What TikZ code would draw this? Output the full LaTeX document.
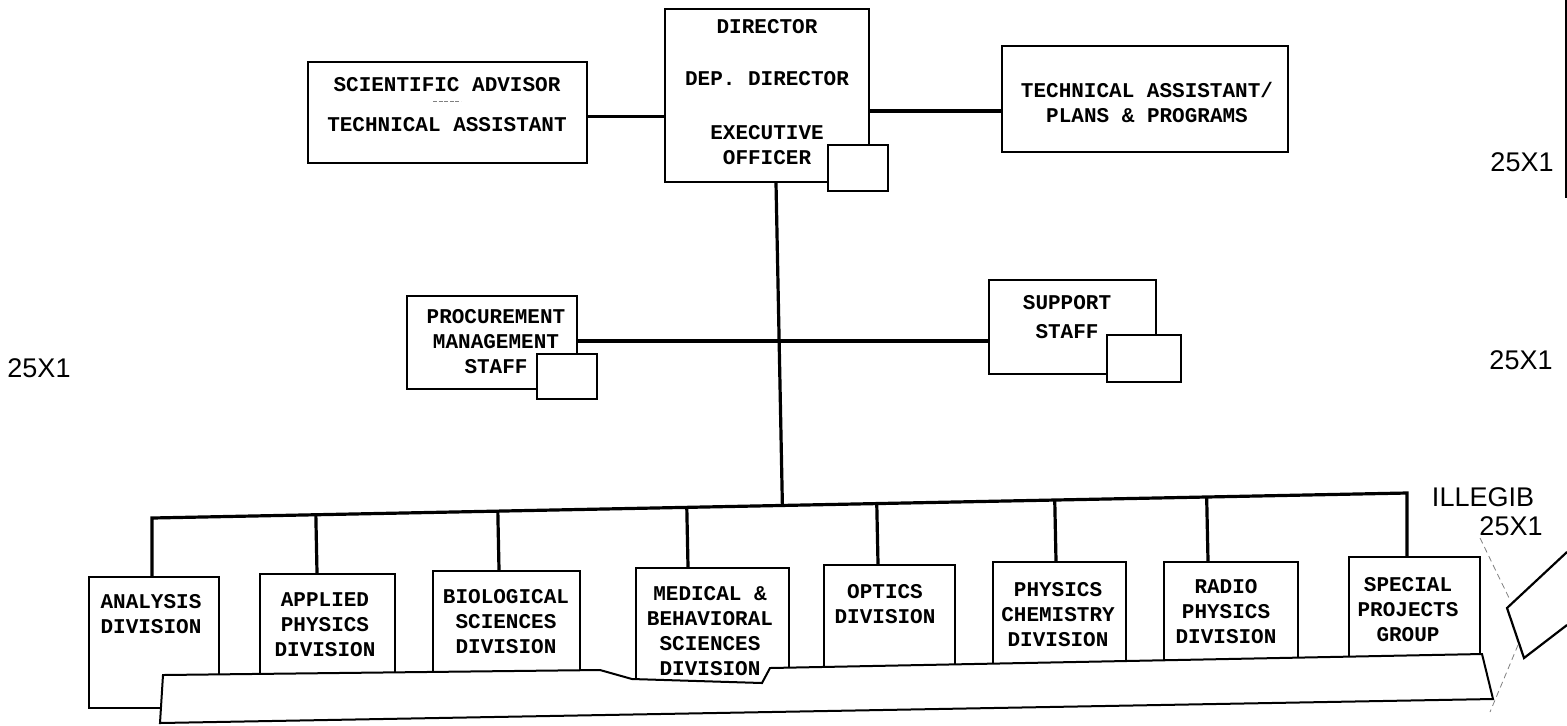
\documentclass[tikz,border=0pt]{standalone}
\usepackage{fontspec}
\setmonofont{Liberation Mono}
\setsansfont{Liberation Sans}
\usetikzlibrary{calc}

\tikzset{
  unit/.style={draw, line width=1.1pt, fill=white, inner sep=0pt},
  stamp/.style={draw, line width=0.85pt, fill=white, inner sep=0pt},
  txt/.style={font=\ttfamily\bfseries\fontsize{10.5}{12.5}\selectfont, align=center, inner sep=0pt},
  tag/.style={font=\sffamily\fontsize{13.5}{15}\selectfont, inner sep=0pt},
  link/.style={line width=1.6pt}
}

\begin{document}
\begin{tikzpicture}[x=0.5pt, y=-0.5pt]
  \useasboundingbox (0,0) rectangle (1567,725);

  % top row
  \node[unit, minimum width=139.5pt, minimum height=50.5pt] (sci) at (447.5,112.5) {};
  \node[unit, minimum width=102pt, minimum height=86.5pt] (dir) at (767,95.5) {};
  \node[unit, minimum width=143pt, minimum height=53pt] (tap) at (1145,99) {};

  % staff
  \node[unit, minimum width=85pt, minimum height=46.5pt] (proc) at (492,342.5) {};
  \node[unit, minimum width=83.5pt, minimum height=47pt] (sup) at (1072.5,327) {};

  % divisions
  \node[unit, minimum width=65pt, minimum height=65.5pt] (ana) at (154,642.5) {};
  \node[unit, minimum width=67.5pt, minimum height=55pt] (app) at (327.5,629) {};
  \node[unit, minimum width=73.5pt, minimum height=56.5pt] (bio) at (506.5,627.5) {};
  \node[unit, minimum width=76.5pt, minimum height=61pt] (med) at (712.5,629) {};
  \node[unit, minimum width=65.5pt, minimum height=57.5pt] (opt) at (889.5,622.5) {};
  \node[unit, minimum width=66.5pt, minimum height=56.5pt] (phc) at (1059.5,618.5) {};
  \node[unit, minimum width=67pt, minimum height=54pt] (rad) at (1231,616) {};
  \node[unit, minimum width=65.5pt, minimum height=54pt] (spg) at (1414.5,611) {};

  % connectors
  \coordinate (sciR) at ([yshift=-2pt]sci.east);
  \coordinate (tapL) at ([yshift=-6pt]tap.west);
  \coordinate (procR) at ([yshift=0.75pt]proc.east);
  \coordinate (dirB) at ([xshift=4.5pt]dir.south);
  \coordinate (busL) at (152,518);
  \coordinate (busR) at (1407,493);
  \draw[link] (sciR) -- (sciR -| dir.west);
  \draw[link] (tapL) -- (tapL -| dir.east);
  \draw[link] (procR) -- (procR -| sup.west);
  \draw[link] (dirB) -- ($(busL)!(dirB)!(busR)$);
  \draw[link] ([xshift=-1pt]ana.north) -- (busL) -- (busR) -- ([xshift=-3.75pt]spg.north);

  \coordinate (appT) at ([xshift=-5.25pt]app.north);
  \coordinate (bioT) at ([xshift=-3.75pt]bio.north);
  \coordinate (medT) at ([xshift=-12.25pt]med.north);
  \coordinate (optT) at ([xshift=-5.75pt]opt.north);
  \coordinate (phcT) at ([xshift=-1.75pt]phc.north);
  \coordinate (radT) at ([xshift=-11.5pt]rad.north);
  \draw[link] (appT) -- ($(busL)!(appT)!(busR)$);
  \draw[link] (bioT) -- ($(busL)!(bioT)!(busR)$);
  \draw[link] (medT) -- ($(busL)!(medT)!(busR)$);
  \draw[link] (optT) -- ($(busL)!(optT)!(busR)$);
  \draw[link] (phcT) -- ($(busL)!(phcT)!(busR)$);
  \draw[link] (radT) -- ($(busL)!(radT)!(busR)$);

  % strip under the divisions
  \draw[line width=1pt, fill=white] (163,675) -- (600,670) -- (632,679) -- (762,683)
    -- (770,668) -- (1482,654) -- (1493,699) -- (160,723) -- cycle;

  % blanked squares
  \node[stamp, minimum width=30pt, minimum height=23pt] (dirsq) at (858,168) {};
  \node[stamp, minimum width=30pt, minimum height=22.5pt] (procsq) at (567,376.5) {};
  \node[stamp, minimum width=37pt, minimum height=23.5pt] (supsq) at (1144,358.5) {};

  % texts
  \node[txt] (sci-t) at (447,105) {SCIENTIFIC ADVISOR\\[7.5pt]TECHNICAL ASSISTANT};
  \draw[gray, line width=0.5pt, dash pattern=on 2pt off 0.8pt] ([shift={(-7pt,2pt)}]sci-t.center) -- ([shift={(7pt,2pt)}]sci-t.center);
  \node[txt] (dir-t) at (767,92.5) {DIRECTOR\\[13.5pt]DEP. DIRECTOR\\[14.5pt]EXECUTIVE\\OFFICER};
  \node[txt] (tap-t) at (1147,102) {TECHNICAL ASSISTANT/\\PLANS \& PROGRAMS};
  \node[txt] (proc-t) at (496,342) {PROCUREMENT\\MANAGEMENT\\STAFF};
  \node[txt] (sup-t) at (1067,317.5) {SUPPORT\\[2pt]STAFF};
  \node[txt] (ana-t) at (151,614.5) {ANALYSIS\\DIVISION};
  \node[txt] (app-t) at (325,625) {APPLIED\\PHYSICS\\DIVISION};
  \node[txt] (bio-t) at (506,622) {BIOLOGICAL\\SCIENCES\\DIVISION};
  \node[txt] (med-t) at (710,631) {MEDICAL \&\\BEHAVIORAL\\SCIENCES\\DIVISION};
  \node[txt] (opt-t) at (885,604.5) {OPTICS\\DIVISION};
  \node[txt] (phc-t) at (1058,615) {PHYSICS\\CHEMISTRY\\DIVISION};
  \node[txt] (rad-t) at (1226,611.5) {RADIO\\PHYSICS\\DIVISION};
  \node[txt] (spg-t) at (1408,609.5) {SPECIAL\\PROJECTS\\GROUP};

  % margin marks
  \node[tag] (mark1) at (1522,162) {25X1};
  \node[tag] (mark2) at (1521,360) {25X1};
  \node[tag] (mark3) at (39,368) {25X1};
  \node[tag] (illeg) at (1483,497) {ILLEGIB};
  \node[tag] (mark4) at (1511,526) {25X1};

  % edge of the next sheet
  \draw[line width=1.2pt] (1566,0) -- (1566,198);
  \draw[line width=1.1pt] (1567,552) -- (1507,608) -- (1524,658) -- (1567,625);
  \draw[gray, line width=0.4pt, dash pattern=on 3pt off 2pt] (1480,538) -- (1510,600);
  \draw[gray, line width=0.4pt, dash pattern=on 3pt off 2pt] (1518,645) -- (1490,712);
\end{tikzpicture}
\end{document}
